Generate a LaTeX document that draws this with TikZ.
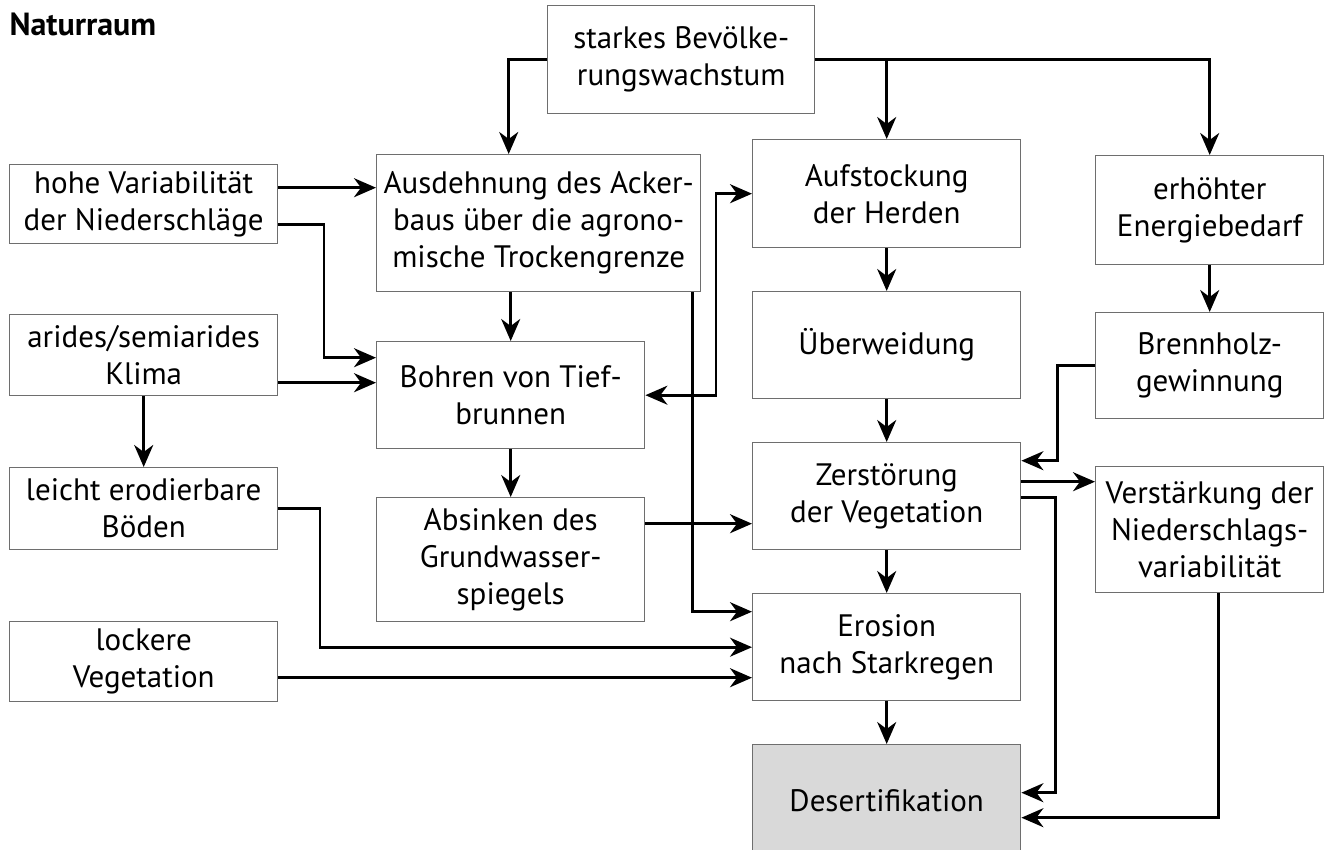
\documentclass[tikz,border=0pt]{standalone}
\usepackage{fontspec}
\setmainfont{PT Sans}
\usetikzlibrary{arrows.meta,calc}
\definecolor{boxgray}{RGB}{110,110,110}
\definecolor{desfill}{RGB}{217,217,217}
\begin{document}
\begin{tikzpicture}[x=1pt,y=-1pt,
  box/.style={draw=boxgray, line width=1.4pt, align=center, inner sep=0pt, anchor=north west,
    font=\fontsize{31}{37}\selectfont},
  arr/.style={line width=2.6pt, -{Stealth[length=22pt,width=19pt,inset=7pt]}},
  arrtwo/.style={line width=2.6pt, {Stealth[length=22pt,width=19pt,inset=7pt]}-{Stealth[length=22pt,width=19pt,inset=7pt]}}]
\clip (0,0) rectangle (1328,850);
\fill[white] (0,0) rectangle (1328,850);

\node[anchor=base west, font=\bfseries\fontsize{32}{34}\selectfont] (title) at (6,36) {Naturraum};

% boxes
\node[box, minimum width=267pt, minimum height=108pt] (starkes) at (547,5) {starkes Bevölke-\\rungswachstum};
\node[box, minimum width=268pt, minimum height=79pt] (hohe) at (9,164) {hohe Variabilität\\der Niederschläge};
\node[box, minimum width=268pt, minimum height=81pt] (arides) at (9,314) {arides/semiarides\\Klima};
\node[box, minimum width=268pt, minimum height=82pt] (leicht) at (9,467) {leicht erodierbare\\Böden};
\node[box, minimum width=268pt, minimum height=80pt] (lockere) at (9,621) {lockere\\Vegetation};
\node[box, minimum width=324pt, minimum height=137pt] (ausd) at (376,154) {Ausdehnung des Acker-\\baus über die agrono-\\mische Trockengrenze};
\node[box, minimum width=268pt, minimum height=107pt] (bohren) at (376,341) {Bohren von Tief-\\brunnen};
\node[box, minimum width=268pt, minimum height=124pt] (absink) at (376,497) {Absinken des\\Grundwasser-\\spiegels};
\node[box, minimum width=268pt, minimum height=108pt] (aufst) at (752,139) {Aufstockung\\der Herden};
\node[box, minimum width=268pt, minimum height=107pt] (ueber) at (752,291) {Überweidung};
\node[box, minimum width=268pt, minimum height=107pt] (zerst) at (752,442) {Zerstörung\\der Vegetation};
\node[box, minimum width=268pt, minimum height=107pt] (eros) at (752,593) {Erosion\\nach Starkregen};
\node[box, fill=desfill, minimum width=268pt, minimum height=112pt] (desert) at (752,744) {Desertifikation};
\node[box, minimum width=228pt, minimum height=109pt] (erhoeht) at (1095,155) {erhöhter\\Energiebedarf};
\node[box, minimum width=228pt, minimum height=106pt] (brenn) at (1095,312) {Brennholz-\\gewinnung};
\node[box, minimum width=228pt, minimum height=126pt] (verst) at (1095,466) {Verstärkung der\\Niederschlags-\\variabilität};

% connectors
\draw[arr] (starkes.west) -| ($(ausd.north)+(-30,0)$);
\draw[arr] (starkes.east) -| (erhoeht.north);
\draw[arr] (starkes.east -| aufst.north) -- (aufst.north);

\coordinate (h1) at ($(hohe.east)+(0,-16.5)$);
\draw[arr] (h1) -- (h1 -| ausd.west);
\coordinate (h2) at ($(hohe.east)+(0,20.5)$);
\coordinate (b1) at ($(bohren.west)+(0,-37.5)$);
\draw[arr] (h2) -| ($(b1)+(-52,0)$) -- (b1);

\coordinate (a1) at ($(arides.east)+(0,27.5)$);
\draw[arr] (a1) -- (a1 -| bohren.west);
\draw[arr] (arides.south) -- (leicht.north);

\draw[arr] (bohren.north |- ausd.south) -- (bohren.north);
\draw[arr] (bohren.south) -- (absink.north);
\draw[arrtwo] (bohren.east) -| ($(aufst.west)+(-36,0)$) -- (aufst.west);

\coordinate (ad) at ($(ausd.south east)+(-9,0)$);
\draw[arr] (ad) |- ($(eros.west)+(0,-35.5)$);

\coordinate (ab) at ($(absink.east)+(0,-36)$);
\draw[arr] (ab) -- (ab -| zerst.west);

\draw[arr] (leicht.east) -| ($(eros.west)+(-432,0)$) -- (eros.west);
\coordinate (l1) at ($(lockere.east)+(0,16)$);
\draw[arr] (l1) -- (l1 -| eros.west);

\draw[arr] (aufst.south) -- (ueber.north);
\draw[arr] (ueber.south) -- (zerst.north);
\draw[arr] (zerst.south) -- (eros.north);
\draw[arr] (eros.south) -- (desert.north);
\draw[arr] (erhoeht.south) -- (brenn.north);

\draw[arr] (brenn.west) -| ($(zerst.east)+(36,-35.5)$) -- ($(zerst.east)+(0,-35.5)$);
\coordinate (z1) at ($(zerst.east)+(0,-14.5)$);
\draw[arr] (z1) -- (z1 -| verst.west);
\coordinate (z2) at ($(zerst.east)+(0,1.5)$);
\draw[arr] (z2) -| ($(desert.east)+(34,-8)$) -- ($(desert.east)+(0,-8)$);
\coordinate (v1) at ($(verst.south)+(9,0)$);
\draw[arr] (v1) |- ($(desert.east)+(0,17)$);
\end{tikzpicture}
\end{document}
